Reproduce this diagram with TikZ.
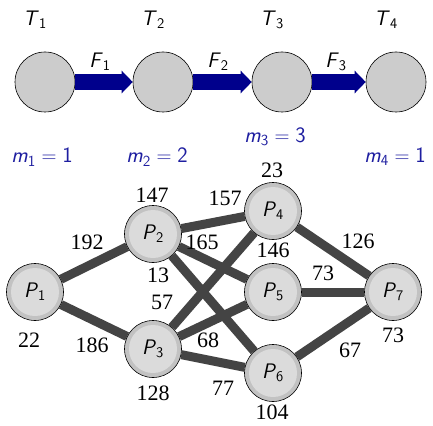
\documentclass[tikz,border=0pt]{standalone}
\usepackage{amsmath}
\usepackage{fontspec}
\newfontfamily\numfont{Liberation Serif}
\usetikzlibrary{arrows.meta,backgrounds}
\newcommand\smv[2]{\textsf{\textit{#1}}_{\textsf{#2}}}
\definecolor{flowblue}{RGB}{0,0,140}
\definecolor{mblue}{RGB}{30,30,160}
\definecolor{edgegray}{RGB}{68,68,68}
\begin{document}
\begin{tikzpicture}[x=1pt,y=-1pt,
  topnode/.style={circle,draw=black,fill=gray!40,minimum size=60pt,inner sep=0pt,line width=0.6pt},
  pnode/.style={circle,draw=black,fill=gray!48,minimum size=57pt,inner sep=0pt,line width=0.6pt,
    path picture={\fill[gray!28] (path picture bounding box.center) circle (24pt);},
    font=\fontsize{21}{24}\selectfont},
  flow/.style={line width=16pt,draw=flowblue,-{Triangle[length=11pt,width=22pt]}},
  sflabel/.style={font=\fontsize{21}{24}\selectfont,inner sep=0pt},
  mlabel/.style={font=\fontsize{22}{26}\selectfont,inner sep=0pt,text=mblue},
  num/.style={font=\numfont\fontsize{22}{26}\selectfont,inner sep=0pt},
  edge/.style={line width=9pt,draw=edgegray}]
\useasboundingbox (0,0) rectangle (433,425);
% top chain
\node[topnode] (c1) at (45,82) {};
\node[topnode] (c2) at (163,82) {};
\node[topnode] (c3) at (282,82) {};
\node[topnode] (c4) at (396,82) {};
\draw[flow] (c1) -- (c2);
\draw[flow] (c2) -- (c3);
\draw[flow] (c3) -- (c4);
\node[sflabel] (t1) at (35,20) {$\smv{T}{1}$};
\node[sflabel] (t2) at (153,20) {$\smv{T}{2}$};
\node[sflabel] (t3) at (272,20) {$\smv{T}{3}$};
\node[sflabel] (t4) at (386,20) {$\smv{T}{4}$};
\node[sflabel] (f1) at (100,62) {$\smv{F}{1}$};
\node[sflabel] (f2) at (218,62) {$\smv{F}{2}$};
\node[sflabel] (f3) at (336,62) {$\smv{F}{3}$};
\node[mlabel] (m1) at (42,157) {$\smv{m}{1}=\textsf{1}$};
\node[mlabel] (m2) at (157,157) {$\smv{m}{2}=\textsf{2}$};
\node[mlabel] (m3) at (275,137) {$\smv{m}{3}=\textsf{3}$};
\node[mlabel] (m4) at (395,157) {$\smv{m}{4}=\textsf{1}$};
% graph
\node[pnode] (p1) at (35,292) {$\smv{P}{1}$};
\node[pnode] (p2) at (153,234) {$\smv{P}{2}$};
\node[pnode] (p3) at (153,349) {$\smv{P}{3}$};
\node[pnode] (p4) at (273,211) {$\smv{P}{4}$};
\node[pnode] (p5) at (273,292) {$\smv{P}{5}$};
\node[pnode] (p6) at (273,373) {$\smv{P}{6}$};
\node[pnode] (p7) at (393,292) {$\smv{P}{7}$};
\begin{scope}[on background layer]
\draw[edge] (p1) -- (p2);
\draw[edge] (p1) -- (p3);
\draw[edge] (p2) -- (p4);
\draw[edge] (p2) -- (p5);
\draw[edge] (p2) -- (p6);
\draw[edge] (p3) -- (p4);
\draw[edge] (p3) -- (p5);
\draw[edge] (p3) -- (p6);
\draw[edge] (p4) -- (p7);
\draw[edge] (p5) -- (p7);
\draw[edge] (p6) -- (p7);
\end{scope}
% numbers
\node[num] (n147) at (152,195) {147};
\node[num] (n192) at (87,242) {192};
\node[num] (n13) at (158,275) {13};
\node[num] (n57) at (162,302) {57};
\node[num] (n22) at (29,340) {22};
\node[num] (n186) at (92,345) {186};
\node[num] (n128) at (153,393) {128};
\node[num] (n165) at (202,242) {165};
\node[num] (n157) at (225,198) {157};
\node[num] (n23) at (272,170) {23};
\node[num] (n146) at (273,250) {146};
\node[num] (n68) at (208,340) {68};
\node[num] (n77) at (223,388) {77};
\node[num] (n104) at (272,412) {104};
\node[num] (n126) at (358,241) {126};
\node[num] (n73a) at (323,273) {73};
\node[num] (n73b) at (393,335) {73};
\node[num] (n67) at (350,350) {67};
\end{tikzpicture}
\end{document}
